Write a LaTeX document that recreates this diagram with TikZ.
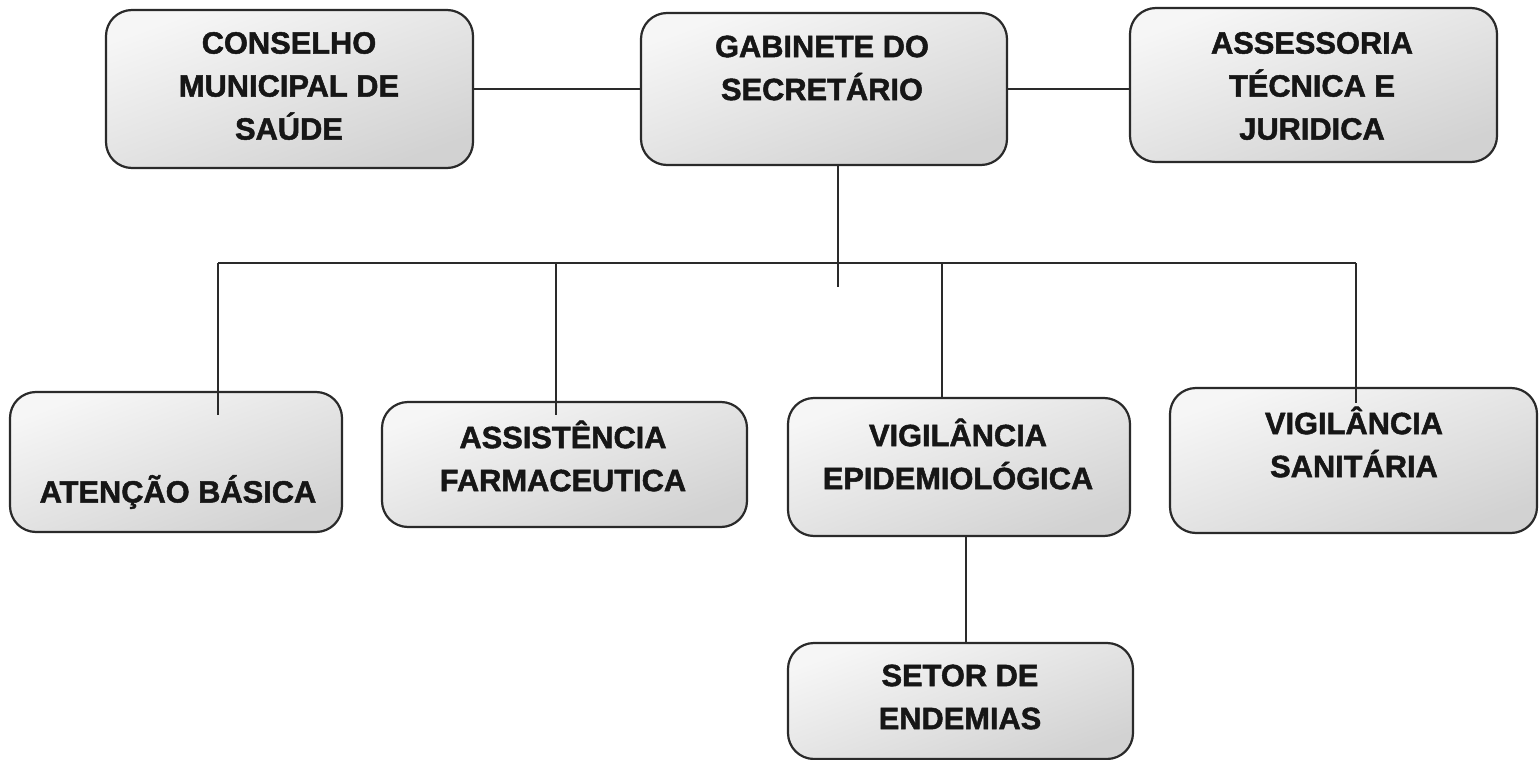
\documentclass[tikz,border=0pt]{standalone}
\usepackage{fontspec}
\setmainfont{Liberation Sans}[BoldFeatures={FakeBold=1.6}]
\definecolor{boxline}{HTML}{2A2A2A}
\definecolor{txt}{HTML}{161616}
\definecolor{shadeA}{HTML}{F6F6F6}
\definecolor{shadeB}{HTML}{ECECEC}
\definecolor{shadeC}{HTML}{D2D2D2}
\begin{document}
\begin{tikzpicture}[x=0.5pt,y=-0.5pt,
  orgbox/.style={draw=boxline, line width=1.1pt, rounded corners=13pt,
    top color=shadeA, middle color=shadeB, bottom color=shadeC, shading angle=20,
    inner sep=0pt},
  lbl/.style={text=txt, font=\fontsize{15.4}{21.5}\selectfont\bfseries, align=center, inner sep=0pt},
  conn/.style={draw=boxline, line width=1.1pt}]
\useasboundingbox (0,0) rectangle (1539,760);
\fill[white] (0,0) rectangle (1539,760);
% boxes
\node[orgbox, minimum width=183.5pt, minimum height=79pt] (con) at (289.5,89) {};
\node[orgbox, minimum width=183pt, minimum height=76pt] (gab) at (824,89) {};
\node[orgbox, minimum width=183.5pt, minimum height=77pt] (ass) at (1313.5,85) {};
\node[orgbox, minimum width=166pt, minimum height=70pt] (ate) at (176,462) {};
\node[orgbox, minimum width=182.5pt, minimum height=62.5pt] (far) at (564.5,464.5) {};
\node[orgbox, minimum width=171pt, minimum height=69pt] (epi) at (959,467) {};
\node[orgbox, minimum width=183.5pt, minimum height=72.5pt] (san) at (1353.5,460.5) {};
\node[orgbox, minimum width=172.5pt, minimum height=58pt] (end) at (960.5,701) {};
% labels
\node[lbl] (tcon) at (289,86) {CONSELHO\\MUNICIPAL DE\\SAÚDE};
\node[lbl] (tgab) at (822,68) {GABINETE DO\\SECRETÁRIO};
\node[lbl] (tass) at (1312,86) {ASSESSORIA\\TÉCNICA E\\JURIDICA};
\node[lbl] (tate) at (178,492) {ATENÇÃO BÁSICA};
\node[lbl] (tfar) at (563,456) {ASSISTÊNCIA\\FARMACEUTICA};
\node[lbl] (tepi) at (958,454) {VIGILÂNCIA\\EPIDEMIOLÓGICA};
\node[lbl] (tsan) at (1354,442) {VIGILÂNCIA\\SANITÁRIA};
\node[lbl] (tend) at (960,697) {SETOR DE\\ENDEMIAS};
% coordinates
\coordinate (busL) at (218,263);
\coordinate (busR) at (1356,263);
\coordinate (gx) at (838,287);
\coordinate (bA) at (556,263);
\coordinate (bE) at (942,263);
\coordinate (dA) at (218,415);
\coordinate (dF) at (556,415);
\coordinate (dS) at (1356,403);
\coordinate (ex) at (966,600);
% connectors
\draw[conn] (con.east) -- (gab.west);
\draw[conn] (gab.east) -- (gab.east -| ass.west);
\draw[conn] (gab.south -| gx) -- (gx);
\draw[conn] (busL) -- (busR);
\draw[conn] (busL) -- (dA);
\draw[conn] (bA) -- (dF);
\draw[conn] (bE) -- (bE |- epi.north);
\draw[conn] (busR) -- (dS);
\draw[conn] (epi.south -| ex) -- (end.north -| ex);
\end{tikzpicture}
\end{document}
